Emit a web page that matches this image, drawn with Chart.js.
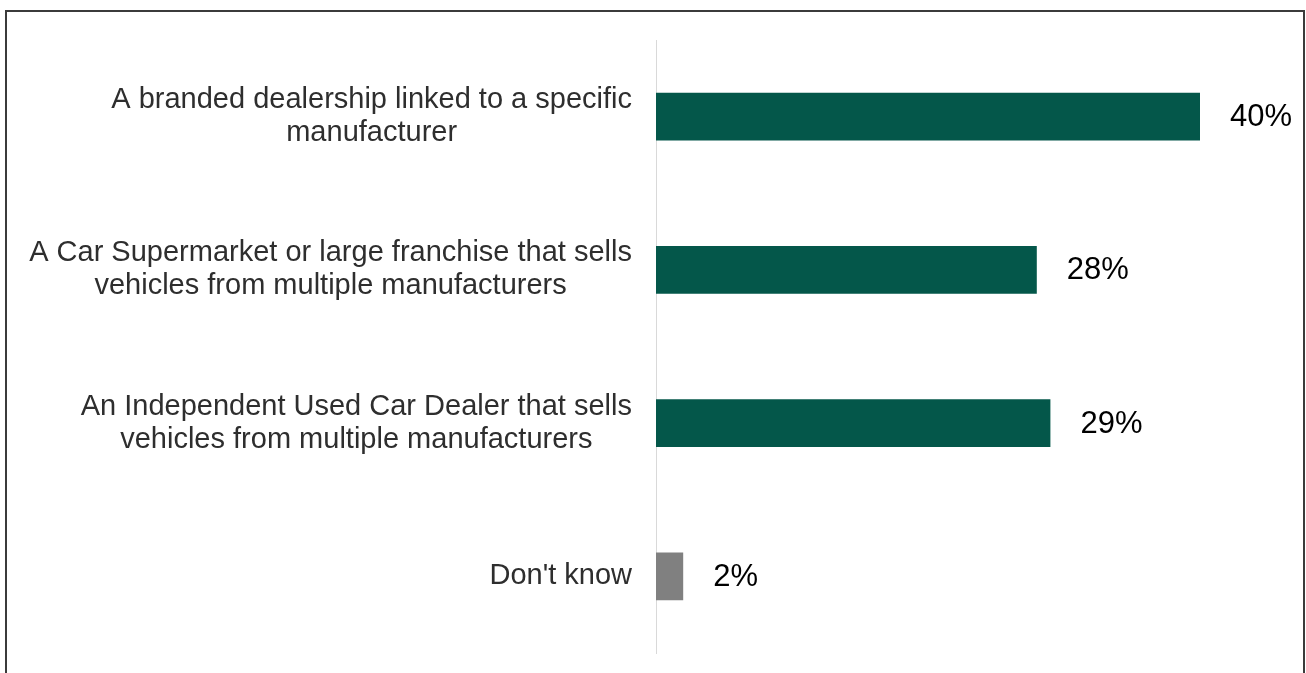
<!DOCTYPE html>
<html>
<head>
<meta charset="utf-8">
<title>Where would you buy</title>
<script src="https://cdn.jsdelivr.net/npm/chart.js@4"></script>
<style>
  html, body { margin: 0; padding: 0; background: #fff; }
  #wrap { position: relative; width: 1306px; height: 673px; overflow: hidden; }
  #frame {
    position: absolute; left: 5px; top: 10px; width: 1300px; height: 700px;
    border: 2px solid #3b3b3b; box-sizing: border-box;
  }
  #chart { position: absolute; left: 0; top: 0; }
</style>
</head>
<body>
<div id="wrap">
  <div id="frame"></div>
  <canvas id="chart" width="1306" height="673"></canvas>
</div>
<script>
// categorias (cada item = linhas do rótulo)
var categorias = [
  ['A branded dealership linked to a specific', 'manufacturer'],
  ['A Car Supermarket or large franchise that sells', 'vehicles from multiple manufacturers'],
  ['An Independent Used Car Dealer that sells', 'vehicles from multiple manufacturers'],
  ["Don't know"]
];
// percentuais de cada resposta
var valores = [40, 28, 29, 2];
var rotulos = ['40%', '28%', '29%', '2%'];

var cores = ['#04574a', '#04574a', '#04574a', '#808080'];

// escreve o rótulo de valor depois da ponta de cada barra
var rotulosValor = {
  id: 'rotulosValor',
  afterDatasetsDraw(chart) {
    const ctx = chart.ctx;
    const meta = chart.getDatasetMeta(0);
    ctx.save();
    ctx.font = '31px "Liberation Sans", Arial, sans-serif';
    ctx.fillStyle = '#000';
    ctx.textAlign = 'left';
    ctx.textBaseline = 'middle';
    meta.data.forEach((bar, i) => {
      ctx.fillText(rotulos[i], bar.x + 30, bar.y + 1);
    });
    ctx.restore();
  }
};

// rótulos das categorias: bloco alinhado à direita, linhas centralizadas
var rotulosCategoria = {
  id: 'rotulosCategoria',
  afterDraw(chart) {
    const ctx = chart.ctx;
    const y = chart.scales.y;
    const direita = chart.chartArea.left - 24;
    const alturaLinha = 33;
    ctx.save();
    ctx.font = '29px "Liberation Sans", Arial, sans-serif';
    ctx.fillStyle = '#2e2e2e';
    ctx.textAlign = 'center';
    ctx.textBaseline = 'middle';
    categorias.forEach((linhas, i) => {
      const largura = Math.max(...linhas.map(l => ctx.measureText(l).width));
      const cx = direita - largura / 2;
      const cy = y.getPixelForValue(i);
      const topo = cy - (linhas.length - 1) * alturaLinha / 2;
      linhas.forEach((l, j) => ctx.fillText(l, cx, topo + j * alturaLinha));
    });
    ctx.restore();
  }
};

var grafico = new Chart(document.getElementById('chart'), {
  type: 'bar',
  data: {
    labels: categorias,
    datasets: [{
      data: valores,
      backgroundColor: cores,
      borderWidth: 0,
      barPercentage: 0.31,
      categoryPercentage: 1
    }]
  },
  options: {
    indexAxis: 'y',
    responsive: false,
    animation: false,
    layout: { padding: { top: 40, bottom: 20, right: 38 } },
    plugins: {
      legend: { display: false },
      tooltip: { enabled: false }
    },
    scales: {
      x: {
        display: false,
        min: 0,
        max: 45
      },
      y: {
        grid: { display: false },
        border: { display: true, color: '#d9d9d9', width: 1 },
        ticks: { display: false },
        afterFit(scale) { scale.width = 656; }
      }
    }
  },
  plugins: [rotulosValor, rotulosCategoria]
});
</script>
</body>
</html>
